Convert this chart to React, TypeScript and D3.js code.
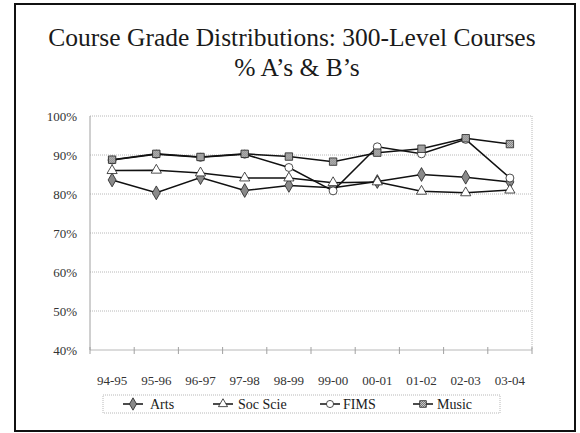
import { useEffect } from "react";
import * as d3 from "d3";

const YEARS = ["94-95", "95-96", "96-97", "97-98", "98-99", "99-00", "00-01", "01-02", "02-03", "03-04"];
const ARTS = [83.6, 80.3, 84.2, 80.9, 82.2, 81.6, 83.2, 85.0, 84.3, 83.1];
const SOC_SCIE = [86.0, 86.1, 85.4, 84.1, 84.1, 82.9, 83.1, 80.7, 80.3, 81.0];
const FIMS = [88.7, 90.2, 89.4, 90.2, 86.8, 80.8, 92.1, 90.3, 94.0, 84.1];
const MUSIC = [88.8, 90.3, 89.5, 90.3, 89.6, 88.3, 90.6, 91.6, 94.3, 92.8];
const Y_TICKS = [40, 50, 60, 70, 80, 90, 100];

const FONT = "'Liberation Serif', 'Times New Roman', serif";
const INK = "#1a1a1a";

type Series = { name: string; values: number[]; symbol: d3.SymbolType; size: number; fill: string };

const SERIES: Series[] = [
  { name: "Arts", values: ARTS, symbol: d3.symbolDiamond, size: 55, fill: "#8a8a8a" },
  { name: "Soc Scie", values: SOC_SCIE, symbol: d3.symbolTriangle, size: 45, fill: "#ffffff" },
  { name: "FIMS", values: FIMS, symbol: d3.symbolCircle, size: 50, fill: "#ffffff" },
  { name: "Music", values: MUSIC, symbol: d3.symbolSquare, size: 55, fill: "url(#hatch)" },
];

const PLOT = { left: 90, right: 532, top: 116, bottom: 350 };

export default function App() {
  useEffect(() => {
    document.body.style.margin = "0";
  }, []);

  const x = d3.scaleBand<string>().domain(YEARS).range([PLOT.left, PLOT.right]);
  const cx = (c: string) => (x(c) ?? 0) + x.bandwidth() / 2;
  const y = d3.scaleLinear().domain([40, 100]).range([PLOT.bottom, PLOT.top]);

  const line = d3
    .line<number>()
    .x((_, i) => cx(YEARS[i]))
    .y((d) => y(d));

  const boundaries = YEARS.map((c) => x(c) ?? 0).concat([PLOT.right]);

  const legendItems = [
    { s: SERIES[0], mx: 133, tx: 150 },
    { s: SERIES[1], mx: 223, tx: 238 },
    { s: SERIES[2], mx: 330, tx: 343 },
    { s: SERIES[3], mx: 423, tx: 437 },
  ];

  return (
    <svg width={580} height={433} style={{ display: "block", background: "#fff" }}>
      <defs>
        <pattern id="hatch" width={2} height={2} patternUnits="userSpaceOnUse">
          <rect width={2} height={2} fill="#c8c8c8" />
          <rect width={1} height={1} fill="#7a7a7a" />
          <rect x={1} y={1} width={1} height={1} fill="#7a7a7a" />
        </pattern>
      </defs>

      {/* outer frame */}
      <rect x={15} y={4} width={560} height={427} fill="#fff" stroke="#111" strokeWidth={2} />

      {/* title */}
      <text x={292} y={46} textAnchor="middle" fontFamily={FONT} fontSize={25.5} fill={INK}>
        Course Grade Distributions: 300-Level Courses
      </text>
      <text x={297} y={76} textAnchor="middle" fontFamily={FONT} fontSize={25.5} fill={INK}>
        % A’s &amp; B’s
      </text>

      {/* gridlines */}
      {Y_TICKS.map((t) => (
        <line
          key={t}
          x1={PLOT.left}
          x2={PLOT.right}
          y1={y(t)}
          y2={y(t)}
          stroke="#b8b8b8"
          strokeWidth={1}
          strokeDasharray={t === 40 ? undefined : "1,1"}
        />
      ))}
      <line x1={PLOT.right} x2={PLOT.right} y1={PLOT.top} y2={PLOT.bottom} stroke="#b8b8b8" strokeDasharray="1,1" />
      <line x1={PLOT.left} x2={PLOT.left} y1={PLOT.top} y2={PLOT.bottom} stroke="#a0a0a0" />

      {/* x ticks */}
      {boundaries.map((b, i) => (
        <line key={i} x1={b} x2={b} y1={PLOT.bottom - 3} y2={PLOT.bottom + 4} stroke="#a0a0a0" />
      ))}

      {/* y labels */}
      {Y_TICKS.map((t) => (
        <text
          key={t}
          x={77}
          y={y(t) + 4.5}
          textAnchor="end"
          fontFamily={FONT}
          fontSize={13}
          fill="#333"
        >
          {`${t}%`}
        </text>
      ))}

      {/* x labels */}
      {YEARS.map((c) => (
        <text key={c} x={cx(c)} y={385} textAnchor="middle" fontFamily={FONT} fontSize={13} fill="#333">
          {c}
        </text>
      ))}

      {/* series */}
      {SERIES.map((s) => (
        <g key={s.name}>
          <path d={line(s.values) ?? ""} fill="none" stroke="#111" strokeWidth={1.5} />
          {s.values.map((v, i) => (
            <path
              key={i}
              transform={`translate(${cx(YEARS[i])},${y(v)})`}
              d={d3.symbol(s.symbol, s.size)() ?? ""}
              fill={s.fill}
              stroke="#222"
              strokeWidth={0.8}
            />
          ))}
        </g>
      ))}

      {/* legend */}
      <rect x={103} y={395} width={397} height={18} fill="#fff" stroke="#b8b8b8" strokeDasharray="1,1" />
      {legendItems.map(({ s, mx, tx }) => (
        <g key={s.name}>
          <line x1={mx - 10} x2={mx + 10} y1={404} y2={404} stroke="#111" strokeWidth={1.5} />
          <path
            transform={`translate(${mx},404)`}
            d={d3.symbol(s.symbol, s.size * 0.8)() ?? ""}
            fill={s.fill}
            stroke="#222"
            strokeWidth={0.8}
          />
          <text x={tx} y={409} fontFamily={FONT} fontSize={14} fill={INK}>
            {s.name}
          </text>
        </g>
      ))}
    </svg>
  );
}
